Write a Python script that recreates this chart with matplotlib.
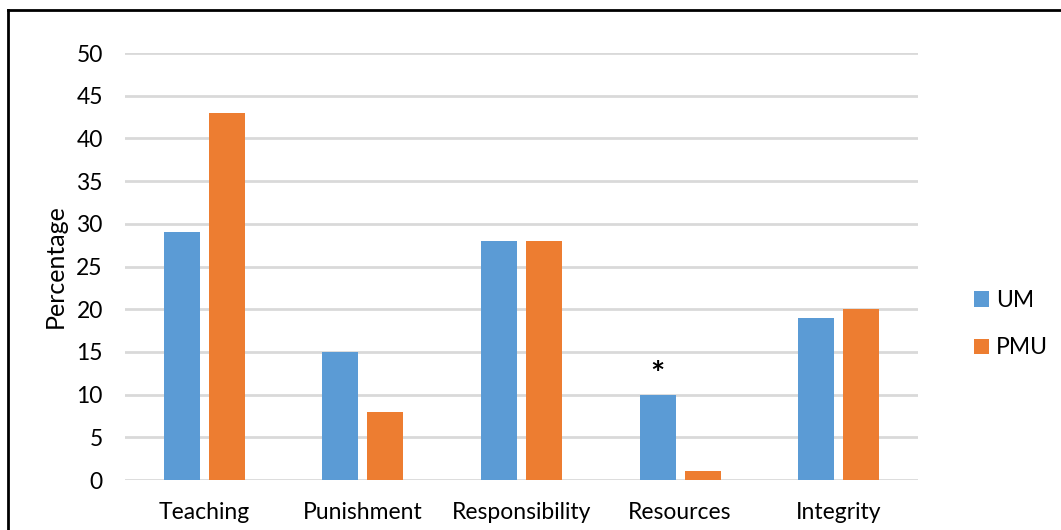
import matplotlib.pyplot as plt
import numpy as np
from matplotlib.lines import Line2D

# ── Data ─────────────────────────────────────────────────────────────────────
CATEGORIES = ['Teaching', 'Punishment', 'Responsibility', 'Resources', 'Integrity']
UM_VALUES  = [29, 15, 28, 10, 19]
PMU_VALUES = [43, 8, 28, 1, 20]
SERIES     = ['UM', 'PMU']
MARKED     = 'Resources'   # category flagged with an asterisk

UM_COLOR  = '#5B9BD5'
PMU_COLOR = '#ED7D31'
GRID      = '#D9D9D9'

plt.rcParams['font.family'] = ['Lato', 'DejaVu Sans']

fig = plt.figure(figsize=(10.61, 5.30), dpi=100)
ax = fig.add_axes([0.1178, 0.0943, 0.7474, 0.8057])

x = np.arange(len(CATEGORIES))
width = 0.227
gap = 0.057
off = (width + gap) / 2

ax.bar(x - off, UM_VALUES, width, color=UM_COLOR, label=SERIES[0], zorder=3)
ax.bar(x + off, PMU_VALUES, width, color=PMU_COLOR, label=SERIES[1], zorder=3)

# asterisk above the flagged UM bar
i = CATEGORIES.index(MARKED)
ax.text(x[i] - off, UM_VALUES[i] + 2.2, '*', ha='center', va='center',
        fontsize=24, fontweight='bold', color='black')

ax.set_xlim(-0.5, len(CATEGORIES) - 0.5)
ax.set_ylim(0, 50)
ax.set_yticks(np.arange(0, 51, 5))
ax.set_xticks(x)
ax.set_xticklabels(CATEGORIES)
ax.tick_params(axis='both', length=0, labelsize=16.5)
ax.tick_params(axis='y', pad=16)
ax.tick_params(axis='x', pad=16)
ax.yaxis.grid(True, color=GRID, linewidth=2, zorder=0)
ax.set_axisbelow(True)
for s in ax.spines.values():
    s.set_visible(False)
ax.set_ylabel('Percentage', fontsize=18, labelpad=7)

ax.legend(loc='center left', bbox_to_anchor=(1.045, 0.365), frameon=False,
          fontsize=16.5, handlelength=0.65, handleheight=0.65, labelspacing=1.15,
          handletextpad=0.3)

# frame line along top and left edges
fx, fy = 8 / 1061, 1 - 10 / 530
fig.add_artist(Line2D([fx, fx], [0, fy], transform=fig.transFigure, color='black', linewidth=2))
fig.add_artist(Line2D([fx, 1], [fy, fy], transform=fig.transFigure, color='black', linewidth=2))

fig.savefig('out.png', dpi=100)
